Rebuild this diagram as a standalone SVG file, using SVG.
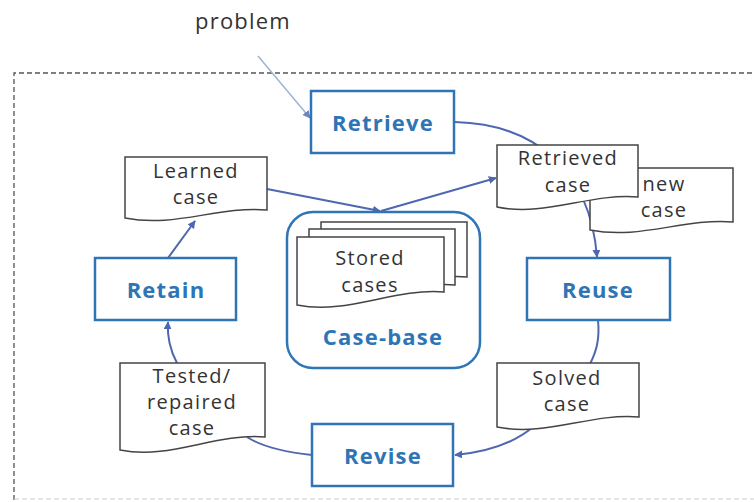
<svg xmlns="http://www.w3.org/2000/svg" width="754" height="502" viewBox="0 0 754 502">
<defs>
<marker id="arr" viewBox="0 0 10 10" refX="9" refY="5" markerWidth="8" markerHeight="8" markerUnits="userSpaceOnUse" orient="auto">
<path d="M0,0 L10,5 L0,10 Z" fill="#4f67b0"/>
</marker>
<marker id="arrg" viewBox="0 0 10 10" refX="9" refY="5" markerWidth="8" markerHeight="8" markerUnits="userSpaceOnUse" orient="auto">
<path d="M0,0 L10,5 L0,10 Z" fill="#6a86c0"/>
</marker>
<style>
.box{fill:#fff;stroke:#2e75b6;stroke-width:2.5}
.btxt{font-family:"Open Sans","Liberation Sans",sans-serif;font-weight:bold;font-size:22px;fill:#2e75b6;text-anchor:middle;letter-spacing:1.2px}
.doc{fill:#fff;stroke:#444;stroke-width:1.5}
.dtxt{font-family:"Open Sans","Liberation Sans",sans-serif;font-size:20px;fill:#333;text-anchor:middle;letter-spacing:1.3px}
.con{fill:none;stroke:#4f67b0;stroke-width:2}
</style>
</defs>
<rect width="754" height="502" fill="#fff"/>
<path d="M14,500 V73 H754" fill="none" stroke="#555" stroke-width="1.3" stroke-dasharray="5,3"/>
<path d="M14,499 H754" fill="none" stroke="#ccc" stroke-width="1" stroke-dasharray="5,3"/>
<text x="243" y="29" font-family="Open Sans, Liberation Sans, sans-serif" font-size="22" letter-spacing="1.2" fill="#333" text-anchor="middle">problem</text>

<g id="connectors">
<path d="M258,56 L310,118" fill="none" stroke="#9fb3d6" stroke-width="1.5" marker-end="url(#arrg)"/>
<path class="con" d="M455,122 C535,124 590,170 597,257" marker-end="url(#arr)"/>
<path class="con" d="M598,320 C600,340 596,352 590,364"/>
<path class="con" d="M533,427 C515,442 490,452 455,455" marker-end="url(#arr)"/>
<path class="con" d="M312,455 C285,452 262,447 247,437"/>
<path class="con" d="M177,363 C170,350 167,338 168,322" marker-end="url(#arr)"/>
<path class="con" d="M168,258 L195,221" marker-end="url(#arr)"/>
<path class="con" d="M267,189 L380,211" marker-end="url(#arr)"/>
<path class="con" d="M381,211 L496,178" marker-end="url(#arr)"/>
</g>

<g id="retrieve">
<rect class="box" x="311" y="91" width="143" height="62"/>
<text class="btxt" x="383" y="131">Retrieve</text>
</g>
<g id="retain">
<rect class="box" x="95" y="258" width="141" height="62"/>
<text class="btxt" x="166" y="298">Retain</text>
</g>
<g id="reuse">
<rect class="box" x="527" y="258" width="143" height="62"/>
<text class="btxt" x="598" y="298">Reuse</text>
</g>
<g id="revise">
<rect class="box" x="312" y="424" width="141" height="62"/>
<text class="btxt" x="383" y="464">Revise</text>
</g>

<g id="case-base">
<rect x="287" y="212" width="193" height="156" rx="26" fill="#fff" stroke="#2e75b6" stroke-width="2.5"/>
<path class="doc" d="M321,222 H467 V277 C416,273 372,300 321,290 Z"/>
<path class="doc" d="M309,229 H455 V285 C404,281 360,308 309,298 Z"/>
<path class="doc" d="M297,237 H444 V292 C393,288 348,315 297,305 Z"/>
<text class="dtxt" x="370" y="265">Stored</text>
<text class="dtxt" x="370" y="292">cases</text>
<text class="btxt" x="383" y="345">Case-base</text>
</g>

<g id="learned-case">
<path class="doc" d="M125,157 H267 V210 C217,206 175,228 125,218 Z"/>
<text class="dtxt" x="196" y="178">Learned</text>
<text class="dtxt" x="196" y="204">case</text>
</g>
<g id="new-case">
<path class="doc" d="M590,168 H733 V222 C683,218 640,240 590,230 Z"/>
<text class="dtxt" x="664" y="191">new</text>
<text class="dtxt" x="664" y="217">case</text>
</g>
<g id="retrieved-case">
<path class="doc" d="M497,145 H638 V197 C589,193 546,217 497,207 Z"/>
<text class="dtxt" x="568" y="165">Retrieved</text>
<text class="dtxt" x="568" y="192">case</text>
</g>
<g id="solved-case">
<path class="doc" d="M497,363 H639 V417 C589,413 547,437 497,427 Z"/>
<text class="dtxt" x="567" y="385">Solved</text>
<text class="dtxt" x="567" y="411">case</text>
</g>
<g id="tested-case">
<path class="doc" d="M120,363 H265 V437 C214,433 171,460 120,450 Z"/>
<text class="dtxt" x="192" y="383">Tested/</text>
<text class="dtxt" x="192" y="409">repaired</text>
<text class="dtxt" x="192" y="435">case</text>
</g>
</svg>
